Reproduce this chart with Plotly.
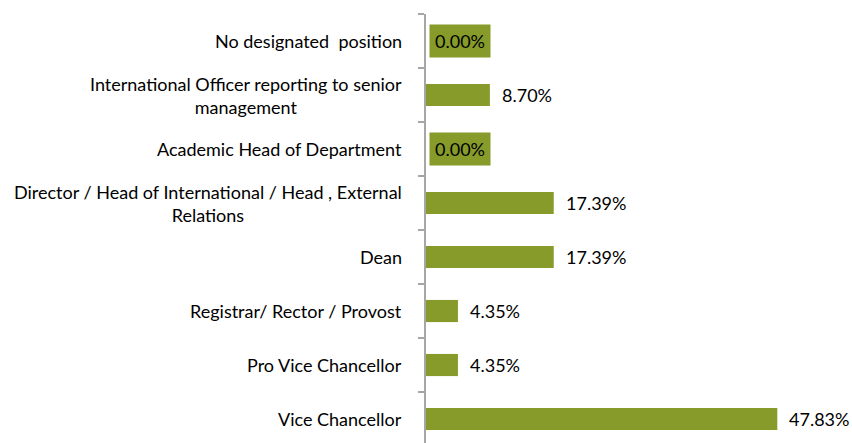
import plotly.graph_objects as go

categories = [
    "Vice Chancellor",
    "Pro Vice Chancellor",
    "Registrar/ Rector / Provost",
    "Dean",
    "Director / Head of International / Head , External<br>Relations",
    "Academic Head of Department",
    "International Officer reporting to senior<br>management",
    "No designated  position",
]
values = [47.83, 4.35, 4.35, 17.39, 17.39, 0.00, 8.70, 0.00]
value_labels = ["47.83%", "4.35%", "4.35%", "17.39%", "17.39%", "0.00%", "8.70%", "0.00%"]

BAR = "#869B29"
FONT = "Lato, Carlito, Calibri, sans-serif"
FS = 18

fig = go.Figure()
fig.add_trace(go.Bar(
    x=values, y=list(range(len(categories))), orientation="h",
    marker=dict(color=BAR, line=dict(width=0)), width=0.41,
    hoverinfo="skip",
))

annotations = []
for i, (cat, v, lab) in enumerate(zip(categories, values, value_labels)):
    annotations.append(dict(
        x=0, xref="paper", y=i, yref="y", text=cat, showarrow=False,
        xanchor="right", yanchor="middle", align="center", xshift=-22,
        font=dict(family=FONT, size=FS, color="#000000"),
    ))
    if v == 0:
        annotations.append(dict(
            x=v, xref="x", y=i, yref="y", text=lab, showarrow=False,
            xanchor="left", yanchor="middle", xshift=3,
            bgcolor=BAR, borderpad=5,
            font=dict(family=FONT, size=FS, color="#000000"),
        ))
    else:
        annotations.append(dict(
            x=v, xref="x", y=i, yref="y", text=lab, showarrow=False,
            xanchor="left", yanchor="middle", xshift=10,
            font=dict(family=FONT, size=FS, color="#000000"),
        ))

fig.update_layout(
    width=852, height=443,
    margin=dict(l=426, r=0, t=14, b=0, autoexpand=False),
    paper_bgcolor="white", plot_bgcolor="white",
    showlegend=False,
    annotations=annotations,
    xaxis=dict(range=[0, 58.0], visible=False, fixedrange=True),
    yaxis=dict(
        type="linear", range=[-0.444, 7.5],
        tickmode="array", tickvals=[i - 0.5 for i in range(len(categories) + 1)],
        showticklabels=False, ticks="outside", ticklen=6, tickwidth=1.5,
        tickcolor="#A6A6A6", showline=True, linecolor="#A6A6A6", linewidth=1.5,
        showgrid=False, zeroline=False, fixedrange=True,
    ),
)

fig.write_html(
    "out.html",
    config={"displayModeBar": False},
    post_script="document.body.style.margin='0';document.body.style.overflow='hidden';",
)
